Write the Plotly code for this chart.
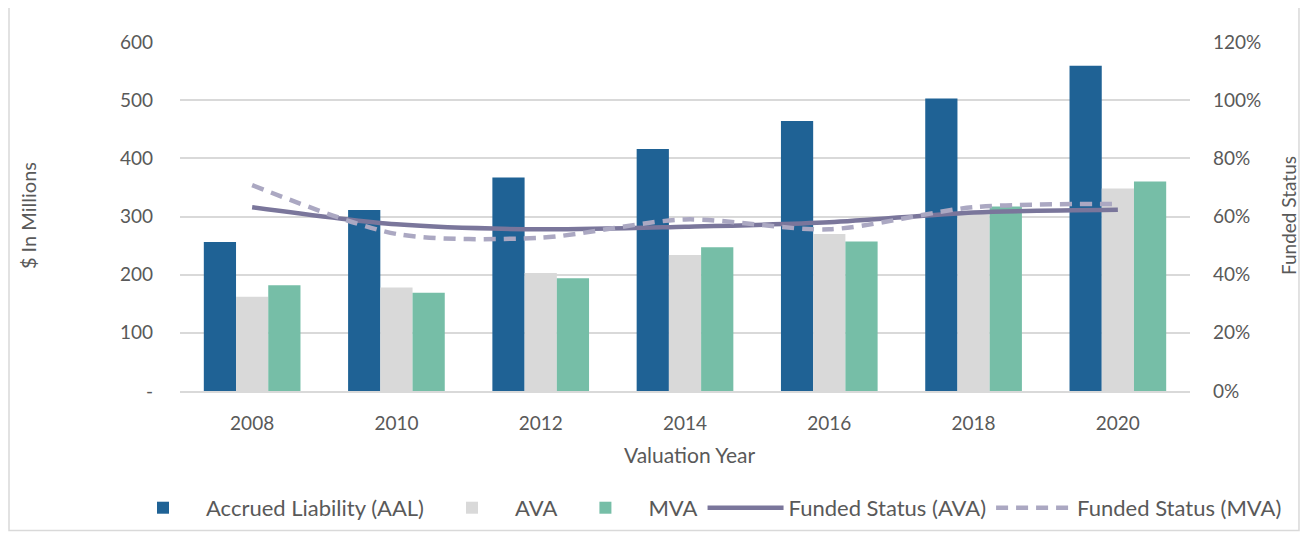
import plotly.graph_objects as go

years = ["2008", "2010", "2012", "2014", "2016", "2018", "2020"]
aal = [256, 311, 367, 416, 464, 503, 559]
ava = [162, 178, 203, 234, 270, 308, 348]
mva = [182, 169, 194, 247, 257, 317, 360]
fs_ava = [0.632, 0.573, 0.556, 0.565, 0.580, 0.614, 0.623]
fs_mva = [0.708, 0.540, 0.527, 0.590, 0.556, 0.632, 0.643]

left_ticks = [0, 100, 200, 300, 400, 500, 600]
left_text = ["-", "100", "200", "300", "400", "500", "600"]
right_ticks = [0, 0.2, 0.4, 0.6, 0.8, 1.0, 1.2]
right_text = ["0%", "20%", "40%", "60%", "80%", "100%", "120%"]

FONT = "Lato"
TXT = "#595959"
GRID = "#d9d9d9"

fig = go.Figure()
fig.add_trace(go.Bar(x=years, y=aal, name="Accrued Liability (AAL)",
                     marker=dict(color="#1f6295", line=dict(width=0))))
fig.add_trace(go.Bar(x=years, y=ava, name="AVA",
                     marker=dict(color="#d9d9d9", line=dict(width=0))))
fig.add_trace(go.Bar(x=years, y=mva, name="MVA",
                     marker=dict(color="#76bea7", line=dict(width=0))))
fig.add_trace(go.Scatter(x=years, y=fs_ava, name="Funded Status (AVA)", yaxis="y2",
                         mode="lines",
                         line=dict(color="#7a769b", width=4.5, shape="spline", smoothing=0.8)))
fig.add_trace(go.Scatter(x=years, y=fs_mva, name="Funded Status (MVA)", yaxis="y2",
                         mode="lines",
                         line=dict(color="#aba8c2", width=4.5, shape="spline", smoothing=0.8,
                                   dash="12px,8px")))

# page body has an 8px margin: figure is sized/offset so the plot lands where the reference has it
fig.update_layout(
    width=1294, height=524,
    margin=dict(l=172, r=112, t=34, b=141, autoexpand=False),
    paper_bgcolor="white", plot_bgcolor="white",
    font=dict(family=FONT, color=TXT, size=19),
    barmode="group", bargap=0.33, bargroupgap=0,
    showlegend=True,
    legend=dict(orientation="h", xref="paper", yref="paper",
                x=-0.0594, xanchor="left", y=-0.335, yanchor="middle",
                font=dict(size=22, color=TXT), itemwidth=76, traceorder="normal"),
    xaxis=dict(type="category", showgrid=False, showline=True, linecolor=GRID, linewidth=2,
               ticks="", tickfont=dict(size=19, color=TXT), ticklabelstandoff=14),
    yaxis=dict(range=[0, 600], tickvals=left_ticks, ticktext=left_text,
               showgrid=True, gridcolor=GRID, gridwidth=1.5, zeroline=False,
               showline=False, ticks="", tickfont=dict(size=19, color=TXT),
               ticklabelstandoff=26),
    yaxis2=dict(range=[0, 1.2], tickvals=right_ticks, ticktext=right_text,
                overlaying="y", side="right", showgrid=False, zeroline=False,
                showline=False, ticks="", tickfont=dict(size=19, color=TXT),
                ticklabelstandoff=22),
    annotations=[
        dict(text="$ In Millions", xref="paper", yref="paper", x=-0.1505, y=0.504,
             textangle=-90, showarrow=False, font=dict(size=20, color=TXT),
             xanchor="center", yanchor="middle"),
        dict(text="Funded Status", xref="paper", yref="paper", x=1.097, y=0.504,
             textangle=-90, showarrow=False, font=dict(size=19, color=TXT),
             xanchor="center", yanchor="middle"),
        dict(text="Valuation Year", xref="paper", yref="paper", x=0.505, y=-0.183,
             showarrow=False, font=dict(size=21, color=TXT),
             xanchor="center", yanchor="middle"),
    ],
    shapes=[
        dict(type="rect", xref="paper", yref="paper", x0=-0.1693, x1=1.1079,
             y0=-0.400, y1=1.2, line=dict(color=GRID, width=1.5), fillcolor="rgba(0,0,0,0)",
             layer="below"),
    ],
)

fig.write_html("out.html")
